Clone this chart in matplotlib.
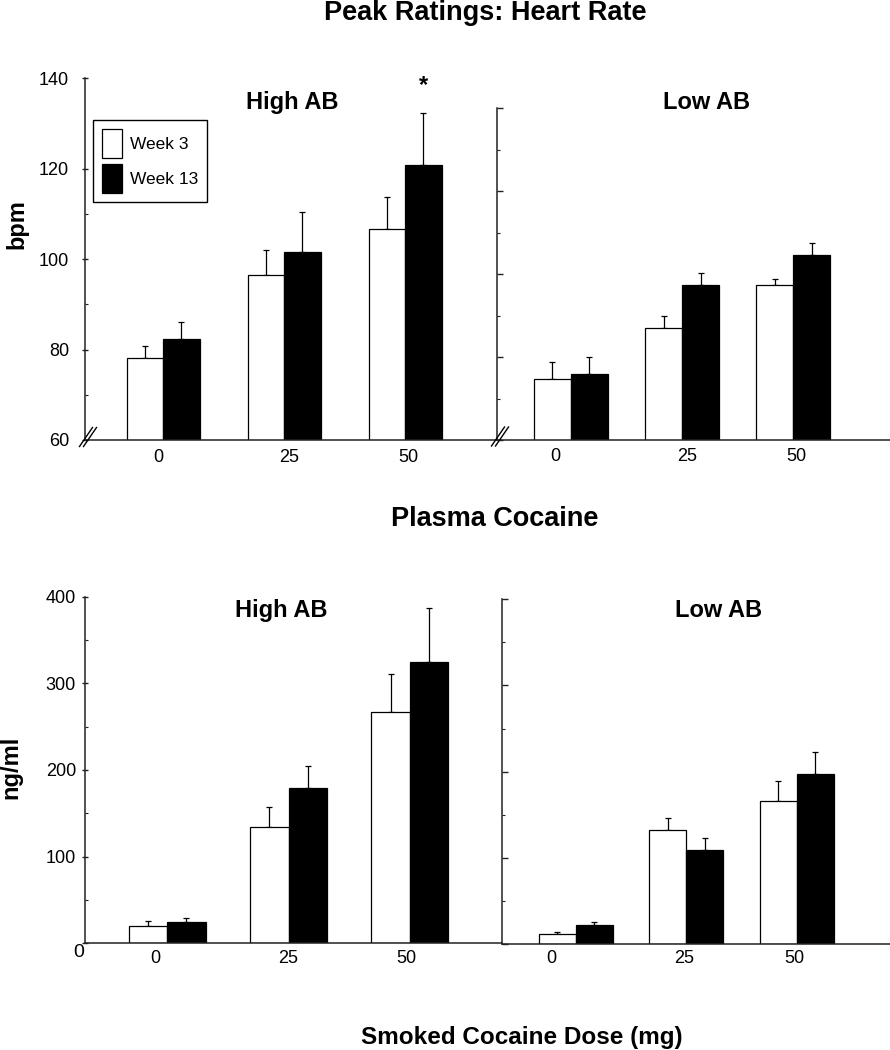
import numpy as np
import matplotlib
matplotlib.use("Agg")
import matplotlib.pyplot as plt
from matplotlib.patches import Patch
from matplotlib.lines import Line2D
import matplotlib.transforms as mtransforms

# ---------------- data ----------------
doses = ["0", "25", "50"]
series_names = ["Week 3", "Week 13"]

hr_high_wk3 = [78.2, 96.6, 106.6]
hr_high_wk3_err = [2.6, 5.4, 7.2]
hr_high_wk13 = [82.3, 101.6, 120.8]
hr_high_wk13_err = [3.9, 8.9, 11.5]

hr_low_wk3 = [74.7, 87.1, 97.5]
hr_low_wk3_err = [4.2, 2.9, 1.3]
hr_low_wk13 = [75.9, 97.3, 104.7]
hr_low_wk13_err = [4.0, 2.9, 2.7]

pc_high_wk3 = [20.3, 134.2, 267.3]
pc_high_wk3_err = [5.7, 23.5, 43.1]
pc_high_wk13 = [25.0, 178.8, 325.0]
pc_high_wk13_err = [4.6, 25.8, 62.3]

pc_low_wk3 = [11.6, 131.9, 166.3]
pc_low_wk3_err = [2.7, 14.6, 22.7]
pc_low_wk13 = [22.0, 108.7, 197.6]
pc_low_wk13_err = [3.0, 13.9, 25.1]

# ---------------- style ----------------
plt.rcParams["font.family"] = ["Liberation Sans", "DejaVu Sans"]
W, H = 890, 1050
fig = plt.figure(figsize=(W / 100, H / 100), dpi=100)
AX_COLOR = "#222222"
TICK_FS = 13


def px_axes(l, t, r, b):
    return fig.add_axes([l / W, 1 - b / H, (r - l) / W, (b - t) / H])


def draw_panel(ax, wk3, wk3_err, wk13, wk13_err, width, xlim, ylim):
    x = np.arange(len(doses))
    ax.bar(x - width / 2, wk3, width, color="white", edgecolor="black",
           linewidth=0.9, zorder=2)
    ax.bar(x + width / 2, wk13, width, color="black", edgecolor="black",
           linewidth=0.9, zorder=2)
    z = np.zeros(len(doses))
    ax.errorbar(x - width / 2, wk3, yerr=[z, wk3_err], fmt="none",
                ecolor="black", elinewidth=0.9, capsize=2, capthick=0.9, zorder=1)
    ax.errorbar(x + width / 2, wk13, yerr=[z, wk13_err], fmt="none",
                ecolor="black", elinewidth=0.9, capsize=2, capthick=0.9, zorder=1)
    ax.set_xlim(*xlim)
    ax.set_ylim(*ylim)
    for s in ["top", "right"]:
        ax.spines[s].set_visible(False)
    for s in ["left", "bottom"]:
        ax.spines[s].set_color(AX_COLOR)
        ax.spines[s].set_linewidth(1.1)
    ax.patch.set_alpha(0)
    return x


def set_xlabels(ax, offsets_px, spacing_px, pad):
    pos = np.arange(len(doses)) + np.array(offsets_px) / spacing_px
    ax.set_xticks(pos)
    ax.set_xticklabels(doses, fontsize=TICK_FS)
    ax.tick_params(axis="x", length=0, pad=pad)


# ---------------- top: heart rate ----------------
ax1 = px_axes(85, 78.3, 497, 440)
x1 = draw_panel(ax1, hr_high_wk3, hr_high_wk3_err, hr_high_wk13, hr_high_wk13_err,
                0.30, (-0.647, 2.758), (60, 140))
ax1.set_yticks([60, 80, 100, 120, 140])
ax1.set_yticks([70, 90, 110], minor=True)
ax1.tick_params(axis="y", which="major", direction="inout", length=5, width=1,
                color=AX_COLOR, labelsize=TICK_FS, pad=9)
ax1.tick_params(axis="y", which="minor", direction="in", length=2.5, width=0.8,
                color=AX_COLOR)
set_xlabels(ax1, [-5, 5, 3], 121, 6.5)
ax1.annotate("*", xy=(x1[2] + 0.15, hr_high_wk13[2] + hr_high_wk13_err[2]),
             xytext=(0, 15), textcoords="offset points", ha="center",
             va="baseline", fontsize=17, fontweight="bold")

leg = ax1.legend(handles=[Patch(facecolor="white", edgecolor="black", linewidth=0.9),
                          Patch(facecolor="black", edgecolor="black", linewidth=0.9)],
                 labels=series_names, loc="upper left",
                 bbox_to_anchor=(93.3 / W, 1 - 120 / H),
                 bbox_transform=fig.transFigure, borderaxespad=0,
                 fontsize=12.5, handlelength=1.15, handleheight=2.19,
                 handletextpad=0.45, labelspacing=0.36, borderpad=0.5,
                 fancybox=False, framealpha=1, edgecolor="black")
leg.get_frame().set_linewidth(1.0)

ax2 = px_axes(497, 108.3, 890, 440)
draw_panel(ax2, hr_low_wk3, hr_low_wk3_err, hr_low_wk13, hr_low_wk13_err,
           0.333, (-0.665, 2.87), (60, 140))
ax2.set_yticks([60, 80, 100, 120, 140])
ax2.set_yticks([70, 90, 110, 130], minor=True)
ax2.tick_params(axis="y", which="major", direction="in", length=4, width=1,
                color=AX_COLOR, labelleft=False)
ax2.tick_params(axis="y", which="minor", direction="in", length=2, width=0.8,
                color=AX_COLOR)
set_xlabels(ax2, [-16, 5, 3], 111.2, 5.5)

# ---------------- bottom: plasma cocaine ----------------
ax3 = px_axes(85, 596.7, 501.7, 943.3)
draw_panel(ax3, pc_high_wk3, pc_high_wk3_err, pc_high_wk13, pc_high_wk13_err,
           0.317, (-0.678, 2.757), (0, 400))
ax3.set_yticks([0, 100, 200, 300, 400])
ax3.set_yticks([50, 150, 250, 350], minor=True)
ax3.tick_params(axis="y", which="major", direction="inout", length=5, width=1,
                color=AX_COLOR, labelsize=TICK_FS, pad=4)
ax3.tick_params(axis="y", which="minor", direction="in", length=2, width=0.8,
                color=AX_COLOR)
set_xlabels(ax3, [-12, 0, -3], 121.3, 5)
fig.canvas.draw()
zero_lab = ax3.get_yticklabels()[0]
zero_lab.set_fontsize(14)
zero_lab.set_transform(zero_lab.get_transform() +
                       mtransforms.ScaledTranslation(0.085, -0.07, fig.dpi_scale_trans))

ax4 = px_axes(501.7, 599.3, 890, 944)
draw_panel(ax4, pc_low_wk3, pc_low_wk3_err, pc_low_wk13, pc_low_wk13_err,
           0.335, (-0.67, 2.845), (0, 400))
ax4.set_yticks([0, 100, 200, 300, 400])
ax4.set_yticks([50, 150, 250, 350], minor=True)
ax4.tick_params(axis="y", which="major", direction="in", length=4, width=1,
                color=AX_COLOR, labelleft=False)
ax4.tick_params(axis="y", which="minor", direction="in", length=2, width=0.8,
                color=AX_COLOR)
set_xlabels(ax4, [-24, -2, -2], 110.5, 4)

# ---------------- axis-break marks ----------------
def break_marks(cx, cy):
    for dx in (-2, 2):
        fig.add_artist(Line2D([(cx + dx - 6.5) / W, (cx + dx + 6.5) / W],
                              [1 - (cy + 9.5) / H, 1 - (cy - 9.5) / H],
                              transform=fig.transFigure, color="black", lw=1.0))

break_marks(88, 437)
break_marks(500, 436.5)

# ---------------- texts ----------------
def ftext(x, y, s, **kw):
    fig.text(x / W, 1 - y / H, s, **kw)

ftext(485.5, 19.5, "Peak Ratings: Heart Rate", ha="center", va="baseline",
      fontsize=19.5, fontweight="bold")
ftext(494.5, 526, "Plasma Cocaine", ha="center", va="baseline",
      fontsize=19.5, fontweight="bold")
ftext(522, 1044, "Smoked Cocaine Dose (mg)", ha="center", va="baseline",
      fontsize=17.5, fontweight="bold")

ftext(292.5, 109.3, "High AB", ha="center", va="baseline", fontsize=17, fontweight="bold")
ftext(707, 109.3, "Low AB", ha="center", va="baseline", fontsize=17, fontweight="bold")
ftext(281, 617.3, "High AB", ha="center", va="baseline", fontsize=17, fontweight="bold")
ftext(718.8, 617.3, "Low AB", ha="center", va="baseline", fontsize=17, fontweight="bold")

ftext(16.7, 224, "bpm", ha="center", va="center", rotation=90,
      fontsize=17, fontweight="bold")
ftext(11, 767.5, "ng/ml", ha="center", va="center", rotation=90,
      fontsize=17, fontweight="bold")

fig.savefig("out.png", dpi=100, facecolor="white")
